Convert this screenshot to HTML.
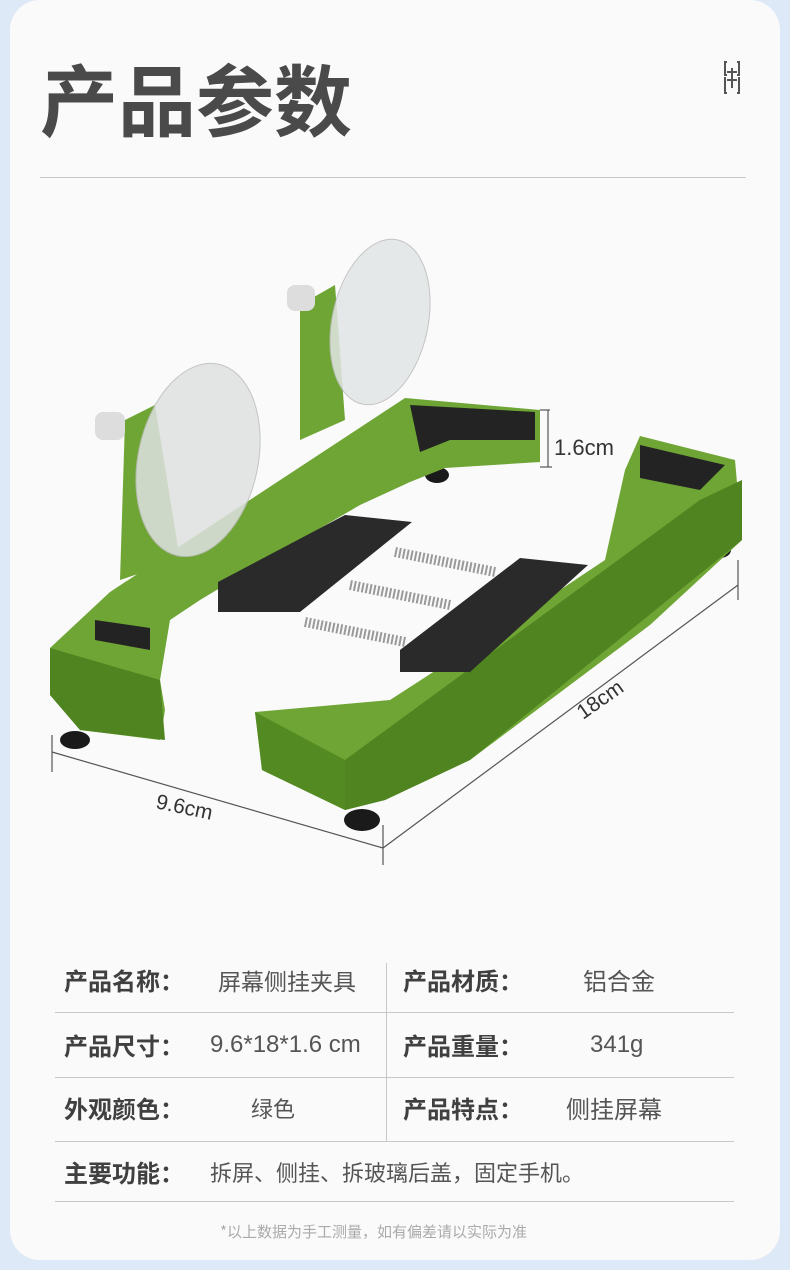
<!DOCTYPE html>
<html><head><meta charset="utf-8"><style>
html,body{margin:0;padding:0}
body{width:790px;height:1270px;background:#dde9f7;position:relative;overflow:hidden;font-family:"Liberation Sans","Noto Sans CJK SC",sans-serif}
.card{position:absolute;left:10px;top:0px;width:770px;height:1260px;background:#fafafa;border-radius:30px}
.t{position:absolute;color:#444}
h1{position:absolute;left:40px;top:52px;margin:0;font-size:78px;font-weight:bold;color:#4a4a4a;letter-spacing:0px;line-height:90px;font-family:"Noto Sans CJK SC",sans-serif}
.hr{position:absolute;height:1px;background:#c8c8c8}
.lab{position:absolute;font-size:24px;font-weight:bold;color:#404040;line-height:32px;font-family:"Noto Sans CJK SC",sans-serif}
.val{position:absolute;font-size:24px;color:#555;line-height:32px;font-family:"Noto Sans CJK SC",sans-serif}
</style></head><body>
<div class="card"></div>
<h1>产品参数</h1>
<svg style="position:absolute;left:722px;top:60px" width="24" height="36"><g stroke="#555" stroke-width="2" fill="none"><path d="M5 2H3V15H5M3 17V33H5M15 2H17V15H15M17 17V33H15M5 12H15M5 20H15M10 8V28"/></g></svg>
<div class="hr" style="left:40px;top:177px;width:706px"></div>

<svg style="position:absolute;left:0;top:190px" width="790" height="680" viewBox="0 190 790 680">
<g stroke="#555" stroke-width="1.2" fill="none">
<line x1="52" y1="752" x2="383" y2="848"/><line x1="52" y1="735" x2="52" y2="772"/><line x1="383" y1="825" x2="383" y2="865"/>
<line x1="383" y1="848" x2="738" y2="585"/><line x1="738" y1="560" x2="738" y2="600"/>
<line x1="540" y1="410" x2="550" y2="410"/><line x1="548" y1="410" x2="548" y2="467"/><line x1="540" y1="467" x2="552" y2="467"/>
</g>
<text x="155" y="808" font-size="21" fill="#333" transform="rotate(12 155 808)" font-family="Liberation Sans">9.6cm</text>
<text x="583" y="720" font-size="21" fill="#333" transform="rotate(-35 583 720)" font-family="Liberation Sans">18cm</text>
<text x="554" y="455" font-size="22" fill="#333" font-family="Liberation Sans">1.6cm</text>
<g fill="#1a1a1a"><ellipse cx="75" cy="740" rx="15" ry="9"/><ellipse cx="362" cy="820" rx="18" ry="11"/><ellipse cx="720" cy="550" rx="11" ry="8"/><ellipse cx="437" cy="475" rx="12" ry="8"/></g>
<polygon fill="#6ea534" points="50,648 110,592 405,398 540,410 540,462 445,468 410,482 360,505 300,540 200,600 170,620 160,680 165,710 160,740 80,730 50,695"/>
<polygon fill="#4f8420" points="50,648 160,680 165,740 80,730 50,695"/>
<polygon fill="#232323" points="410,405 535,412 535,440 450,440 420,452"/>
<polygon fill="#232323" points="95,620 150,628 150,650 95,640"/>
<polygon fill="#6ea534" points="255,712 390,700 560,590 605,560 625,470 640,436 735,460 742,540 650,625 470,760 385,800 345,810 262,770"/>
<polygon fill="#548a22" points="255,712 345,760 345,810 262,770"/>
<polygon fill="#4f8420" points="345,760 700,500 742,480 742,540 470,760 385,800 345,810"/>
<polygon fill="#232323" points="640,445 725,465 700,490 640,478"/>
<polygon fill="#2a2a2a" points="218,582 345,515 412,522 300,612 218,612"/>
<polygon fill="#2a2a2a" points="400,650 520,558 588,565 470,672 400,672"/>
<g stroke="#999" stroke-width="10" stroke-dasharray="2 2"><line x1="395" y1="552" x2="495" y2="572"/><line x1="350" y1="585" x2="450" y2="605"/><line x1="305" y1="622" x2="405" y2="642"/></g>
<polygon fill="#6ea534" points="125,420 155,405 180,560 120,580"/>
<polygon fill="#6ea534" points="300,305 335,285 345,420 300,440"/>
<ellipse cx="198" cy="460" rx="60" ry="98" fill="#dfe2e2" stroke="#bbb" opacity="0.85" transform="rotate(12 198 460)"/>
<ellipse cx="380" cy="322" rx="48" ry="84" fill="#e2e5e5" stroke="#bbb" opacity="0.85" transform="rotate(12 380 322)"/>
<rect x="95" y="412" width="30" height="28" rx="8" fill="#ddd"/>
<rect x="287" y="285" width="28" height="26" rx="8" fill="#ddd"/>
</svg>

<div class="hr" style="left:55px;top:1012px;width:679px"></div>
<div class="hr" style="left:55px;top:1077px;width:679px"></div>
<div class="hr" style="left:55px;top:1141px;width:679px"></div>
<div class="hr" style="left:55px;top:1201px;width:679px"></div>
<div style="position:absolute;left:386px;top:963px;width:1px;height:178px;background:#c8c8c8"></div>
<div class="lab" style="left:64px;top:964px">产品名称：</div>
<div class="val" style="left:218px;top:964px;font-size:23px">屏幕侧挂夹具</div>
<div class="lab" style="left:403px;top:964px">产品材质：</div>
<div class="val" style="left:583px;top:964px">铝合金</div>
<div class="lab" style="left:64px;top:1029px">产品尺寸：</div>
<div class="val" style="left:210px;top:1029px;font-family:'Liberation Sans',sans-serif">9.6*18*1.6 cm</div>
<div class="lab" style="left:403px;top:1029px">产品重量：</div>
<div class="val" style="left:590px;top:1029px;font-family:'Liberation Sans',sans-serif">341g</div>
<div class="lab" style="left:64px;top:1092px">外观颜色：</div>
<div class="val" style="left:251px;top:1092px;font-size:22px">绿色</div>
<div class="lab" style="left:403px;top:1092px">产品特点：</div>
<div class="val" style="left:566px;top:1092px">侧挂屏幕</div>
<div class="lab" style="left:64px;top:1156px">主要功能：</div>
<div class="val" style="left:210px;top:1156px;font-size:22px">拆屏、侧挂、拆玻璃后盖，固定手机。</div>
<div class="t" style="left:220px;top:1221px;font-size:15px;color:#aaa;font-family:'Noto Sans CJK SC',sans-serif">*以上数据为手工测量，如有偏差请以实际为准</div>
</body></html>
